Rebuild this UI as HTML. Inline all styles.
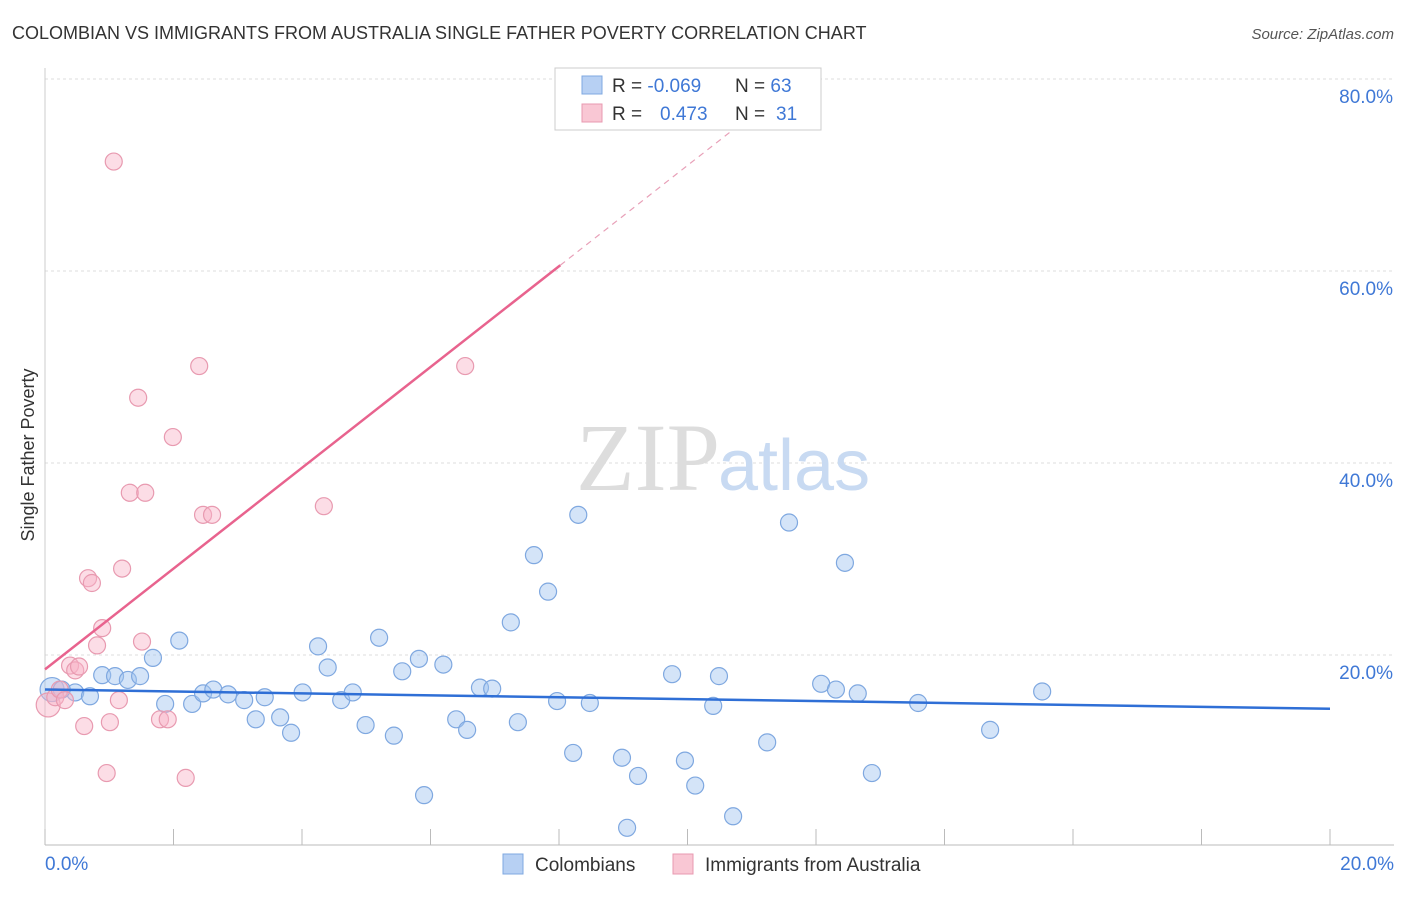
<!DOCTYPE html>
<html><head><meta charset="utf-8"><style>
body{margin:0;background:#fff;font-family:"Liberation Sans",sans-serif}
</style></head><body>
<svg id="c" width="1406" height="892" xmlns="http://www.w3.org/2000/svg" font-family="Liberation Sans, sans-serif">
<text x="12" y="39" font-size="18" fill="#333">COLOMBIAN VS IMMIGRANTS FROM AUSTRALIA SINGLE FATHER POVERTY CORRELATION CHART</text>
<text x="1394" y="39" font-size="15" fill="#555" text-anchor="end" font-style="italic">Source: ZipAtlas.com</text>
<g id="grid"></g>
<text x="720" y="490" font-size="96" fill="#ddd" text-anchor="end" font-family="Liberation Serif, serif">ZIP</text>
<text x="718" y="490" font-size="72" fill="#c8daf2">atlas</text>
<text x="34" y="455" font-size="18" fill="#333" text-anchor="middle" transform="rotate(-90 34 455)">Single Father Poverty</text>
<g id="pts"></g>
<g id="lines"></g>
<g>
<rect x="555" y="68" width="266" height="62" fill="#fff" stroke="#ccc"/>
<rect x="582" y="76" width="20" height="18" fill="#b7d0f3" stroke="#7fa8e0"/>
<rect x="582" y="104" width="20" height="18" fill="#f9c7d4" stroke="#e89ab0"/>
<text x="612" y="92" font-size="19" fill="#333">R = <tspan fill="#3f78d6">-0.069</tspan><tspan x="735">N = </tspan><tspan fill="#3f78d6">63</tspan></text>
<text x="612" y="120" font-size="19" fill="#333">R = <tspan x="660" fill="#3f78d6">0.473</tspan><tspan x="735">N = </tspan><tspan x="776" fill="#3f78d6">31</tspan></text>
</g>
<g>
<rect x="503" y="854" width="20" height="20" fill="#b7d0f3" stroke="#7fa8e0"/>
<text x="535" y="871" font-size="19" fill="#333">Colombians</text>
<rect x="673" y="854" width="20" height="20" fill="#f9c7d4" stroke="#e89ab0"/>
<text x="705" y="871" font-size="19" fill="#333">Immigrants from Australia</text>
</g>
</svg>
<script>
const xTicks=[0,2,4,6,8,10,12,14,16,18,20];
const yTicks=[20,40,60,80];
const blueX=[0.11,0.47,0.7,0.89,1.09,1.29,1.48,1.68,1.87,2.09,2.29,2.46,2.62,2.85,3.1,3.28,3.42,3.66,3.83,4.01,4.25,4.4,4.61,4.79,4.99,5.2,5.43,5.56,5.82,5.9,6.2,6.4,6.57,6.77,6.96,7.25,7.36,7.61,7.83,7.97,8.22,8.3,8.48,8.98,9.06,9.23,9.76,9.96,10.12,10.4,10.49,10.71,11.24,11.58,12.08,12.31,12.45,12.65,12.87,13.59,14.71,15.52,0.26];
const blueY=[16.4,16.1,15.7,17.9,17.8,17.4,17.8,19.7,14.9,21.5,14.9,16.0,16.4,15.9,15.3,13.3,15.6,13.5,11.9,16.1,20.9,18.7,15.3,16.1,12.7,21.8,11.6,18.3,19.6,5.4,19.0,13.3,12.2,16.6,16.5,23.4,13.0,30.4,26.6,15.2,9.8,34.6,15.0,9.3,2.0,7.4,18.0,9.0,6.4,14.7,17.8,3.2,10.9,33.8,17.0,16.4,29.6,16.0,7.7,15.0,12.2,16.2,16.4];
const pinkX=[0.05,0.16,0.23,0.31,0.39,0.47,0.53,0.61,0.67,0.73,0.81,0.89,0.96,1.01,1.07,1.15,1.2,1.32,1.45,1.51,1.56,1.79,1.91,1.99,2.19,2.4,2.46,2.6,4.34,6.54];
const pinkY=[14.8,15.6,16.4,15.3,18.9,18.4,18.8,12.6,28.0,27.5,21.0,22.8,7.7,13.0,71.4,15.3,29.0,36.9,46.8,21.4,36.9,13.3,13.3,42.7,7.2,50.1,34.6,34.6,35.5,50.1];
const blueLine=[0,16.4,20,14.4];
const pinkLine=[0,18.5,8.02,60.6,80];
const X=v=>45+v*64.25, Y=v=>847-v*9.6;
const NS="http://www.w3.org/2000/svg";
function mk(t,a,p){const e=document.createElementNS(NS,t);for(const k in a)e.setAttribute(k,a[k]);p.appendChild(e);return e;}
const g=document.getElementById('grid');
yTicks.forEach(v=>{
 const l=mk('line',{x1:45,x2:1394,y1:Y(v),y2:Y(v),stroke:'#ddd','stroke-dasharray':'3,3'},g);
 
 
 const t=mk('text',{x:1393,y:Y(v)+24,'font-size':19,fill:'#3f78d6','text-anchor':'end'},g);
 t.textContent=v.toFixed(1)+'%';
 
 
});
const ax=mk('line',{x1:45,x2:1394,y1:845,y2:845,stroke:'#bbb'},g);


const ay=mk('line',{x1:45,x2:45,y1:68,y2:845,stroke:'#ccc'},g);


xTicks.forEach(v=>{
 const l=mk('line',{x1:X(v),x2:X(v),y1:829,y2:845,stroke:'#bbb'},g);
 
 
});
[[0,'start'],[20,'end']].forEach(([v,a])=>{
 const t=mk('text',{x:X(v)+(v?64:0),y:870,'font-size':19,fill:'#3f78d6','text-anchor':a},g);
 t.textContent=v.toFixed(1)+'%';
 
 
});
const p=document.getElementById('pts');
blueX.forEach((x,i)=>{
 const c=mk('circle',{cx:X(x),cy:Y(blueY[i]),r:i==0?12:8.5,fill:'rgba(160,195,240,0.45)',stroke:'#7fa8e0','stroke-width':1.2},p);
 
 
});
pinkX.forEach((x,i)=>{
 const c=mk('circle',{cx:X(x),cy:Y(pinkY[i]),r:i==0?12:8.5,fill:'rgba(248,180,200,0.45)',stroke:'#e89ab0','stroke-width':1.2},p);
 
 
});
const L=document.getElementById('lines');
const bl=mk('line',{x1:X(blueLine[0]),y1:Y(blueLine[1]),x2:X(blueLine[2]),y2:Y(blueLine[3]),stroke:'#2f6fd6','stroke-width':2.5},L);


const slope=(pinkLine[3]-pinkLine[1])/(pinkLine[2]-pinkLine[0]);
const pl=mk('line',{x1:X(pinkLine[0]),y1:Y(pinkLine[1]),x2:X(pinkLine[2]),y2:Y(pinkLine[3]),stroke:'#e8638e','stroke-width':2.5},L);


const xe=pinkLine[0]+(pinkLine[4]-pinkLine[1])/slope;
const pd=mk('line',{x1:X(pinkLine[2]),y1:Y(pinkLine[3]),x2:X(xe),y2:Y(pinkLine[4]),stroke:'#e8a0b8','stroke-width':1.2,'stroke-dasharray':'6,5'},L);


</script>
</body></html>
